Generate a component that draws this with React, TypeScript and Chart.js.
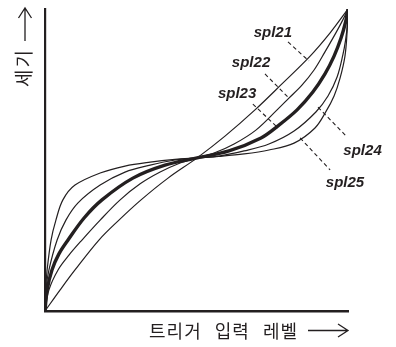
import React, { useEffect, useRef } from 'react';
import { Chart, registerables } from 'chart.js';

Chart.register(...registerables);

// Curve names
const seriesNames = ['spl21', 'spl22', 'spl23', 'spl24', 'spl25'];

// Trigger input level (x) and intensity (y), normalised 0..1
const spl21X = [0, 0.05, 0.099, 0.178, 0.244, 0.317, 0.406, 0.502, 0.594, 0.693, 0.782, 0.875, 0.941, 1];
const spl21Y = [0, 0.07, 0.136, 0.235, 0.301, 0.368, 0.44, 0.507, 0.579, 0.666, 0.752, 0.844, 0.921, 1];

const spl22X = [0, 0.013, 0.043, 0.079, 0.122, 0.182, 0.248, 0.314, 0.38, 0.446, 0.502, 0.558, 0.624, 0.696, 0.766, 0.805, 0.848, 0.888, 0.924, 0.96, 0.983, 1];
const spl22Y = [0, 0.07, 0.136, 0.185, 0.235, 0.301, 0.368, 0.421, 0.46, 0.49, 0.507, 0.523, 0.553, 0.599, 0.666, 0.705, 0.748, 0.798, 0.858, 0.921, 0.964, 1];

const spl23X = [0, 0.007, 0.023, 0.046, 0.076, 0.129, 0.188, 0.29, 0.396, 0.502, 0.607, 0.713, 0.769, 0.832, 0.884, 0.924, 0.954, 0.977, 0.992, 1];
const spl23Y = [0, 0.07, 0.136, 0.189, 0.235, 0.308, 0.368, 0.44, 0.483, 0.507, 0.53, 0.573, 0.613, 0.666, 0.725, 0.785, 0.844, 0.904, 0.957, 1];

const spl24X = [0, 0.003, 0.013, 0.04, 0.069, 0.109, 0.182, 0.264, 0.347, 0.429, 0.502, 0.574, 0.657, 0.739, 0.822, 0.894, 0.934, 0.964, 0.983, 0.992, 0.998, 1];
const spl24Y = [0, 0.07, 0.136, 0.235, 0.301, 0.358, 0.417, 0.46, 0.483, 0.5, 0.507, 0.513, 0.53, 0.553, 0.596, 0.659, 0.712, 0.775, 0.848, 0.897, 0.95, 1];

const spl25X = [0, 0.002, 0.007, 0.02, 0.036, 0.059, 0.099, 0.182, 0.264, 0.347, 0.429, 0.502, 0.574, 0.657, 0.739, 0.822, 0.891, 0.927, 0.954, 0.974, 0.99, 0.997, 1];
const spl25Y = [0, 0.07, 0.136, 0.235, 0.301, 0.368, 0.417, 0.457, 0.48, 0.493, 0.502, 0.507, 0.512, 0.52, 0.533, 0.556, 0.606, 0.66, 0.712, 0.772, 0.844, 0.924, 1];

const seriesX = [spl21X, spl22X, spl23X, spl24X, spl25X];
const seriesY = [spl21Y, spl22Y, spl23Y, spl24Y, spl25Y];

// Axis titles
const xTitleText = '트리거 입력 레벨';
const yTitleText = '세기';

// Callout anchors in data units: label centre, dashed leader from -> to
const labelAnchors = [
  [0.752, 0.922],
  [0.68, 0.823],
  [0.634, 0.719],
  [1.048, 0.53],
  [0.99, 0.425],
];
const leaderLines = [
  [0.802, 0.891, 0.871, 0.828],
  [0.726, 0.785, 0.805, 0.705],
  [0.686, 0.685, 0.762, 0.613],
  [0.901, 0.675, 0.997, 0.576],
  [0.842, 0.573, 0.941, 0.467],
];

const INK = '#231f20';
const KR_FONT = "'Noto Sans CJK KR', 'Noto Sans', sans-serif";

const calloutPlugin = {
  id: 'callouts',
  afterDatasetsDraw(chart: any) {
    const { ctx } = chart;
    const xs = chart.scales.x;
    const ys = chart.scales.y;
    ctx.save();
    ctx.strokeStyle = INK;
    ctx.lineWidth = 1.1;
    ctx.setLineDash([4, 3]);
    leaderLines.forEach(([x1, y1, x2, y2]) => {
      ctx.beginPath();
      ctx.moveTo(xs.getPixelForValue(x1), ys.getPixelForValue(y1));
      ctx.lineTo(xs.getPixelForValue(x2), ys.getPixelForValue(y2));
      ctx.stroke();
    });
    ctx.setLineDash([]);
    ctx.fillStyle = INK;
    ctx.font = "italic bold 15px 'Liberation Sans', Arial, sans-serif";
    ctx.textAlign = 'center';
    ctx.textBaseline = 'middle';
    labelAnchors.forEach(([lx, ly], i) => {
      ctx.fillText(seriesNames[i], xs.getPixelForValue(lx), ys.getPixelForValue(ly));
    });
    ctx.restore();
  },
};

// draws an open-chevron arrow along +x of the current frame, tip at (len, 0)
function drawArrow(ctx: CanvasRenderingContext2D, len: number) {
  ctx.beginPath();
  ctx.moveTo(0, 0);
  ctx.lineTo(len, 0);
  ctx.moveTo(len - 10, -6.5);
  ctx.lineTo(len, 0);
  ctx.lineTo(len - 10, 6.5);
  ctx.stroke();
}

const titlePlugin = {
  id: 'axisTitles',
  afterDraw(chart: any) {
    const { ctx, chartArea } = chart;
    ctx.save();
    ctx.fillStyle = INK;
    ctx.strokeStyle = INK;
    ctx.lineWidth = 1.3;
    ctx.lineJoin = 'miter';
    ctx.textBaseline = 'middle';
    ctx.textAlign = 'right';

    // x title, right aligned with the axis end
    const xMid = chartArea.bottom + 19.5;
    ctx.save();
    ctx.translate(chartArea.right - 40, xMid);
    drawArrow(ctx, 40);
    ctx.restore();
    ctx.font = `18px ${KR_FONT}`;
    (ctx as any).letterSpacing = '1px';
    (ctx as any).wordSpacing = '8px';
    ctx.fillText(xTitleText, chartArea.right - 50, xMid + 0.5);
    (ctx as any).letterSpacing = '0px';
    (ctx as any).wordSpacing = '0px';

    // y title, rotated, ending at the axis top
    ctx.save();
    ctx.translate(25, chartArea.top + 32);
    ctx.rotate(-Math.PI / 2);
    drawArrow(ctx, 33);
    ctx.restore();
    ctx.translate(23.5, chartArea.top - 1);
    ctx.rotate(-Math.PI / 2);
    ctx.font = `19px ${KR_FONT}`;
    (ctx as any).letterSpacing = '2px';
    ctx.fillText(yTitleText, -40, 0);
    (ctx as any).letterSpacing = '0px';
    ctx.restore();
  },
};

export default function App() {
  const canvasRef = useRef<HTMLCanvasElement | null>(null);

  useEffect(() => {
    const canvas = canvasRef.current;
    if (!canvas) return;
    const datasets = seriesNames.map((name, i) => ({
      label: name,
      data: seriesX[i].map((x, j) => ({ x, y: seriesY[i][j] })),
      borderColor: INK,
      borderWidth: name === 'spl23' ? 3.4 : 1.2,
      pointRadius: 0,
      fill: false,
      tension: 0.35,
    }));
    const chart = new Chart(canvas, {
      type: 'line',
      data: { datasets },
      plugins: [calloutPlugin, titlePlugin],
      options: {
        responsive: false,
        animation: false,
        layout: { padding: { top: 9, right: 48, left: 0, bottom: 0 } },
        plugins: { legend: { display: false }, tooltip: { enabled: false } },
        scales: {
          x: {
            type: 'linear',
            min: 0,
            max: 1,
            ticks: { display: false },
            grid: { display: false },
            border: { display: true, color: INK, width: 2.6 },
            title: { display: false },
            afterFit(scale: any) {
              scale.height = 36;
            },
          },
          y: {
            type: 'linear',
            min: 0,
            max: 1,
            ticks: { display: false },
            grid: { display: false },
            border: { display: true, color: INK, width: 2.2 },
            title: { display: false },
            afterFit(scale: any) {
              scale.width = 45;
            },
          },
        },
      },
    });
    return () => chart.destroy();
  }, []);

  return (
    <div style={{ position: 'fixed', left: 0, top: 0, width: 396, height: 347, background: '#fff' }}>
      <canvas ref={canvasRef} width={396} height={347} style={{ display: 'block' }} />
    </div>
  );
}
